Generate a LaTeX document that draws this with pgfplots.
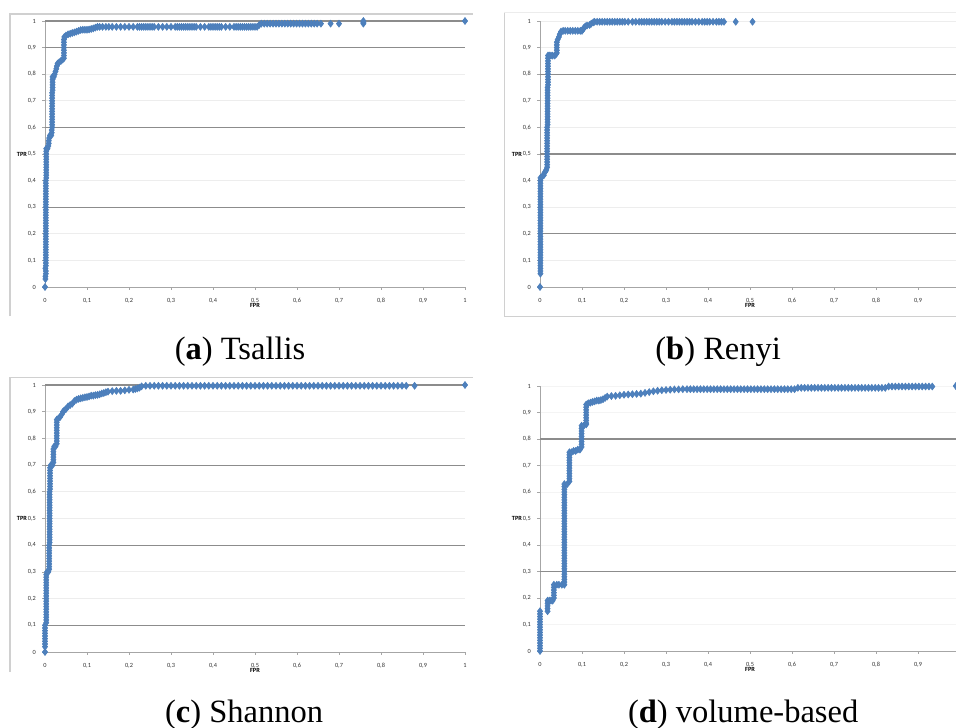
\documentclass[border=0pt]{standalone}
\usepackage{fontspec}
\setmainfont{Carlito}
\newfontfamily\capfont{Liberation Serif}
\usepackage{pgfplots}
\pgfplotsset{compat=1.18}

\definecolor{xlblue}{HTML}{4F81BD}
\definecolor{xledge}{HTML}{4A7EBB}
\definecolor{gridd}{HTML}{8C8C8C}
\definecolor{gridl}{HTML}{EDEDED}
\definecolor{axgray}{HTML}{A6A6A6}
\definecolor{frame}{HTML}{D0D0D0}

\pgfplotsset{
  roc/.style={
    scale only axis, width=8.4cm, height=5.32cm,
    xmin=0, xmax=1, ymin=0, ymax=1,
    axis lines*=left,
    axis line style={axgray, line width=0.5pt},
    xtick={0,0.1,0.2,0.3,0.4,0.5,0.6,0.7,0.8,0.9,1},
    ytick={0,0.1,0.2,0.3,0.4,0.5,0.6,0.7,0.8,0.9,1},
    tick align=outside, major tick length=0.06cm,
    tick style={axgray, line width=0.4pt},
    ymajorgrids, major grid style={gridl, line width=0.5pt},
    extra y tick style={grid=major, major grid style={gridd, line width=0.6pt}},
    extra y tick labels={},
    tick label style={font=\fontsize{3.6}{4}\selectfont, text=black!80},
    xticklabel style={anchor=north, text height=0.9ex, text depth=0.25ex, yshift=0.03cm},
    /pgf/number format/use comma,
    /pgf/number format/fixed,
    /pgf/number format/assume math mode=true,
    xlabel={FPR}, ylabel={TPR},
    label style={font=\fontsize{3.6}{4}\selectfont\bfseries},
    xlabel style={at={(axis description cs:0.5,-0.068)}, anchor=center},
    ylabel style={at={(axis description cs:-0.055,0.5)}, anchor=center, rotate=-90},
    clip=false,
  },
  % right-hand panels run past the page edge, as in the reference
  cut/.style={xtick={0,0.1,0.2,0.3,0.4,0.5,0.6,0.7,0.8,0.9}},
  pts/.style={only marks, mark=diamond*, mark size=2pt, color=xlblue,
    mark options={draw=xledge, fill=xlblue, line width=0.3pt}},
}

\begin{document}
\begin{tikzpicture}
\useasboundingbox (0,0) rectangle (19.12,14.56);

% frames and captions, in pixel units of the reference
\begin{scope}[x=0.02cm, y=-0.02cm, yshift=14.56cm]
  \draw[frame, line width=0.6pt] (10,316) -- (10,14) -- (473,14);
  \draw[frame, line width=0.6pt] (504,12) -- (504,316) -- (956,316);
  \draw[frame!40, line width=0.5pt] (504,12) -- (956,12);
  \draw[frame, line width=0.6pt] (10,672) -- (10,377) -- (473,377);
  \begin{scope}[every node/.style={font=\capfont\fontsize{18.5}{20}\selectfont}]
    \node at (240,352) {(\textbf{a}) Tsallis};
    \node at (718,352) {(\textbf{b}) Renyi};
    \node at (244,715) {(\textbf{c}) Shannon};
    \node at (743,715) {(\textbf{d}) volume-based};
  \end{scope}
\end{scope}

% (a) Tsallis
\begin{axis}[roc, at={(0.90cm,8.82cm)}, anchor=south west,
  extra y ticks={0.3,0.6,0.9,1}]
\addplot[pts] coordinates {
(0,0)
(0.001,0.03)(0.001,0.04)(0.002,0.05)(0.002,0.06)(0.001,0.07)(0.002,0.08)(0.002,0.09)(0.002,0.10)
(0.002,0.11)(0.002,0.12)(0.002,0.13)(0.002,0.14)(0.002,0.15)(0.002,0.16)(0.002,0.17)(0.002,0.18)(0.002,0.19)(0.002,0.20)
(0.002,0.21)(0.002,0.22)(0.002,0.23)(0.002,0.24)(0.002,0.25)(0.002,0.26)(0.002,0.27)(0.002,0.28)(0.002,0.29)(0.002,0.30)
(0.002,0.31)(0.002,0.32)(0.002,0.33)(0.002,0.34)(0.002,0.35)(0.002,0.36)(0.002,0.37)(0.002,0.38)(0.002,0.39)(0.002,0.40)
(0.003,0.41)(0.003,0.42)(0.003,0.43)(0.003,0.44)(0.003,0.45)(0.003,0.46)(0.003,0.47)(0.003,0.48)(0.003,0.49)(0.003,0.50)
(0.003,0.51)(0.003,0.52)(0.006,0.52)(0.008,0.53)(0.009,0.54)(0.009,0.55)(0.010,0.56)(0.012,0.57)(0.015,0.57)
(0.016,0.58)(0.016,0.59)(0.017,0.60)(0.017,0.61)(0.017,0.62)(0.017,0.63)(0.017,0.64)(0.017,0.65)(0.017,0.66)(0.017,0.67)
(0.017,0.68)(0.017,0.69)(0.017,0.70)(0.017,0.71)(0.017,0.72)(0.017,0.73)(0.018,0.74)(0.018,0.75)(0.018,0.76)(0.018,0.77)
(0.018,0.78)(0.018,0.79)
(0.021,0.79)(0.023,0.80)(0.025,0.81)(0.027,0.82)(0.028,0.83)(0.030,0.84)(0.034,0.845)(0.038,0.85)(0.042,0.855)
(0.045,0.86)(0.045,0.87)(0.045,0.88)(0.045,0.89)(0.045,0.90)(0.045,0.91)(0.045,0.92)(0.045,0.93)(0.046,0.94)
(0.050,0.945)(0.055,0.95)(0.060,0.952)(0.065,0.955)(0.070,0.957)(0.075,0.96)(0.080,0.963)(0.085,0.966)(0.090,0.967)
(0.095,0.967)(0.100,0.967)(0.105,0.968)(0.110,0.97)(0.115,0.972)(0.120,0.975)
(0.125,0.978)(0.130,0.978)(0.137,0.978)(0.145,0.978)(0.152,0.978)(0.160,0.978)(0.170,0.978)(0.180,0.978)(0.190,0.978)
(0.200,0.978)(0.210,0.978)(0.220,0.978)(0.225,0.978)(0.230,0.978)(0.235,0.978)(0.240,0.978)(0.245,0.978)(0.250,0.978)
(0.255,0.978)(0.260,0.978)(0.270,0.978)(0.280,0.978)(0.290,0.978)(0.300,0.978)(0.310,0.978)(0.315,0.978)(0.320,0.978)
(0.325,0.978)(0.330,0.978)(0.335,0.978)(0.340,0.978)(0.345,0.978)(0.350,0.978)(0.355,0.978)(0.360,0.978)(0.370,0.978)
(0.380,0.978)(0.390,0.978)(0.395,0.978)(0.400,0.978)(0.405,0.978)(0.410,0.978)(0.415,0.978)(0.420,0.978)(0.430,0.978)
(0.440,0.978)(0.450,0.978)(0.455,0.978)(0.460,0.978)(0.465,0.978)(0.470,0.978)(0.475,0.978)(0.480,0.978)(0.485,0.978)
(0.490,0.978)(0.495,0.978)(0.500,0.978)(0.505,0.978)
(0.510,0.985)(0.515,0.99)(0.522,0.99)(0.529,0.99)(0.536,0.99)(0.543,0.99)(0.550,0.99)(0.557,0.99)(0.564,0.99)
(0.571,0.99)(0.578,0.99)(0.585,0.99)(0.592,0.99)(0.599,0.99)(0.606,0.99)(0.613,0.99)(0.620,0.99)(0.627,0.99)
(0.634,0.99)(0.641,0.99)(0.648,0.99)(0.657,0.99)
(0.680,0.99)(0.700,0.99)(0.758,0.99)(0.758,0.995)(0.758,1)(1,1)
};
\end{axis}

% (b) Renyi
\begin{axis}[roc, cut, at={(10.80cm,8.82cm)}, anchor=south west,
  extra y ticks={0.2,0.5,0.8}]
\addplot[pts] coordinates {
(0,0)
(0.001,0.05)(0.001,0.06)(0.001,0.07)(0.001,0.08)(0.001,0.09)(0.001,0.10)(0.001,0.11)(0.001,0.12)(0.001,0.13)(0.001,0.14)
(0.001,0.15)(0.001,0.16)(0.001,0.17)(0.001,0.18)(0.001,0.19)(0.001,0.20)(0.001,0.21)(0.001,0.22)(0.001,0.23)(0.001,0.24)
(0.001,0.25)(0.001,0.26)(0.001,0.27)(0.001,0.28)(0.001,0.29)(0.001,0.30)(0.001,0.31)(0.001,0.32)(0.001,0.33)(0.001,0.34)
(0.001,0.35)(0.001,0.36)(0.001,0.37)(0.001,0.38)(0.001,0.39)(0.001,0.40)(0.001,0.41)
(0.005,0.415)(0.009,0.42)(0.011,0.43)(0.013,0.435)(0.015,0.44)
(0.017,0.45)(0.017,0.46)(0.017,0.47)(0.017,0.48)(0.017,0.49)(0.017,0.50)(0.017,0.51)(0.017,0.52)(0.017,0.53)(0.017,0.54)
(0.017,0.55)(0.017,0.56)(0.017,0.57)(0.017,0.58)(0.017,0.59)(0.017,0.60)(0.018,0.61)(0.018,0.62)(0.018,0.63)(0.018,0.64)
(0.018,0.65)(0.018,0.66)(0.018,0.67)(0.018,0.68)(0.018,0.69)(0.018,0.70)(0.018,0.71)(0.018,0.72)(0.018,0.73)(0.018,0.74)
(0.018,0.75)(0.019,0.76)(0.019,0.77)(0.019,0.78)(0.019,0.79)(0.019,0.80)(0.019,0.81)(0.019,0.82)(0.019,0.83)(0.019,0.84)
(0.019,0.85)(0.019,0.86)(0.019,0.87)
(0.022,0.87)(0.026,0.87)(0.030,0.87)(0.035,0.87)(0.038,0.875)(0.040,0.88)(0.040,0.89)(0.040,0.90)(0.040,0.91)(0.040,0.92)
(0.042,0.93)(0.045,0.94)(0.047,0.95)(0.050,0.96)
(0.055,0.963)(0.060,0.963)(0.066,0.963)(0.072,0.963)(0.078,0.963)(0.084,0.963)(0.090,0.963)(0.096,0.963)(0.100,0.963)
(0.103,0.97)(0.105,0.975)(0.108,0.98)(0.112,0.983)(0.118,0.985)(0.122,0.99)(0.127,0.995)
(0.130,0.997)(0.136,0.997)(0.142,0.997)(0.148,0.997)(0.154,0.997)(0.160,0.997)(0.166,0.997)(0.172,0.997)(0.178,0.997)
(0.184,0.997)(0.190,0.997)(0.196,0.997)(0.202,0.997)(0.210,0.997)(0.220,0.997)(0.228,0.997)(0.236,0.997)(0.242,0.997)
(0.248,0.997)(0.254,0.997)(0.260,0.997)(0.266,0.997)(0.272,0.997)(0.278,0.997)(0.284,0.997)(0.290,0.997)(0.298,0.997)
(0.306,0.997)(0.314,0.997)(0.320,0.997)(0.326,0.997)(0.332,0.997)(0.338,0.997)(0.344,0.997)(0.350,0.997)(0.356,0.997)
(0.362,0.997)(0.370,0.997)(0.378,0.997)(0.386,0.997)(0.392,0.997)(0.398,0.997)(0.404,0.997)(0.412,0.997)(0.420,0.997)
(0.426,0.997)(0.432,0.997)(0.438,0.997)
(0.466,0.997)(0.506,0.997)
};
\end{axis}

% (c) Shannon
\begin{axis}[roc, at={(0.90cm,1.52cm)}, anchor=south west, height=5.34cm,
  extra y ticks={0.1,0.4,0.7,1}]
\addplot[pts] coordinates {
(0,0)
(0,0.02)(0,0.03)(0,0.04)(0,0.05)(0,0.06)(0,0.07)(0,0.08)(0,0.09)(0,0.10)
(0.003,0.11)(0.003,0.12)(0.003,0.13)(0.003,0.14)(0.003,0.15)(0.003,0.16)(0.003,0.17)(0.003,0.18)(0.003,0.19)(0.003,0.20)
(0.003,0.21)(0.003,0.22)(0.003,0.23)(0.003,0.24)(0.003,0.25)(0.003,0.26)(0.003,0.27)(0.003,0.28)(0.003,0.29)
(0.005,0.30)(0.008,0.30)
(0.010,0.31)(0.010,0.32)(0.010,0.33)(0.010,0.34)(0.010,0.35)(0.010,0.36)(0.010,0.37)(0.010,0.38)(0.010,0.39)(0.010,0.40)
(0.011,0.41)(0.011,0.42)(0.011,0.43)(0.011,0.44)(0.011,0.45)(0.011,0.46)(0.011,0.47)(0.011,0.48)(0.011,0.49)(0.011,0.50)
(0.011,0.51)(0.011,0.52)(0.011,0.53)(0.011,0.54)(0.011,0.55)(0.011,0.56)(0.011,0.57)(0.011,0.58)(0.011,0.59)(0.011,0.60)
(0.012,0.61)(0.012,0.62)(0.012,0.63)(0.012,0.64)(0.012,0.65)(0.012,0.66)(0.012,0.67)(0.012,0.68)(0.012,0.69)
(0.014,0.70)(0.018,0.70)
(0.020,0.71)(0.020,0.72)(0.020,0.73)(0.020,0.74)(0.020,0.75)(0.020,0.76)(0.022,0.77)(0.025,0.77)
(0.028,0.78)(0.028,0.79)(0.028,0.80)(0.028,0.81)(0.028,0.82)(0.028,0.83)(0.028,0.84)(0.028,0.85)(0.028,0.86)(0.028,0.87)
(0.032,0.875)(0.036,0.88)(0.040,0.89)(0.043,0.90)(0.046,0.905)(0.050,0.91)(0.055,0.92)(0.060,0.925)(0.065,0.93)
(0.070,0.94)(0.075,0.945)(0.080,0.948)(0.085,0.95)(0.090,0.952)(0.095,0.954)(0.100,0.955)(0.105,0.957)(0.110,0.96)
(0.115,0.96)(0.120,0.962)(0.125,0.963)(0.130,0.965)(0.135,0.968)(0.140,0.97)(0.145,0.973)(0.150,0.975)(0.160,0.977)
(0.170,0.978)(0.180,0.978)(0.190,0.98)(0.200,0.982)(0.210,0.983)(0.215,0.985)(0.220,0.987)(0.225,0.99)(0.230,0.995)
(0.24,0.997)(0.25,0.997)(0.26,0.997)(0.27,0.997)(0.28,0.997)(0.29,0.997)(0.30,0.997)(0.31,0.997)(0.32,0.997)(0.33,0.997)
(0.34,0.997)(0.35,0.997)(0.36,0.997)(0.37,0.997)(0.38,0.997)(0.39,0.997)(0.40,0.997)(0.41,0.997)(0.42,0.997)(0.43,0.997)
(0.44,0.997)(0.45,0.997)(0.46,0.997)(0.47,0.997)(0.48,0.997)(0.49,0.997)(0.50,0.997)(0.51,0.997)(0.52,0.997)(0.53,0.997)
(0.54,0.997)(0.55,0.997)(0.56,0.997)(0.57,0.997)(0.58,0.997)(0.59,0.997)(0.60,0.997)(0.61,0.997)(0.62,0.997)(0.63,0.997)
(0.64,0.997)(0.65,0.997)(0.66,0.997)(0.67,0.997)(0.68,0.997)(0.69,0.997)(0.70,0.997)(0.71,0.997)(0.72,0.997)(0.73,0.997)
(0.74,0.997)(0.75,0.997)(0.76,0.997)(0.77,0.997)(0.78,0.997)(0.79,0.997)(0.80,0.997)(0.81,0.997)(0.82,0.997)(0.83,0.997)
(0.84,0.997)(0.85,0.997)(0.86,0.997)
(0.88,0.997)(1,1)
};
\end{axis}

% (d) volume-based
\begin{axis}[roc, cut, at={(10.80cm,1.54cm)}, anchor=south west, height=5.30cm,
  extra y ticks={0.3,0.8}, major grid style={gridl!60, line width=0.5pt}]
\addplot[pts] coordinates {
(0,0)(0,0.01)(0,0.02)(0,0.03)(0,0.04)(0,0.05)(0,0.06)(0,0.07)(0,0.08)(0,0.09)(0,0.10)
(0,0.11)(0,0.12)(0,0.13)(0,0.14)(0,0.15)
(0.018,0.15)(0.018,0.16)(0.018,0.17)(0.018,0.18)(0.018,0.19)(0.022,0.19)(0.026,0.19)(0.030,0.19)
(0.033,0.20)(0.033,0.21)(0.033,0.22)(0.033,0.23)(0.033,0.24)(0.033,0.25)(0.040,0.25)(0.045,0.25)(0.052,0.25)
(0.058,0.25)(0.058,0.26)(0.058,0.27)(0.058,0.28)(0.058,0.29)(0.058,0.30)(0.058,0.31)(0.058,0.32)(0.058,0.33)(0.058,0.34)
(0.058,0.35)(0.058,0.36)(0.058,0.37)(0.058,0.38)(0.058,0.39)(0.058,0.40)(0.058,0.41)(0.058,0.42)(0.058,0.43)(0.058,0.44)
(0.058,0.45)(0.058,0.46)(0.058,0.47)(0.058,0.48)(0.058,0.49)(0.058,0.50)(0.058,0.51)(0.058,0.52)(0.058,0.53)(0.058,0.54)
(0.058,0.55)(0.058,0.56)(0.058,0.57)(0.058,0.58)(0.058,0.59)(0.058,0.60)(0.058,0.61)(0.058,0.62)(0.058,0.63)
(0.065,0.63)(0.070,0.64)(0.070,0.65)(0.070,0.66)(0.070,0.67)(0.070,0.68)(0.070,0.69)(0.070,0.70)(0.070,0.71)(0.070,0.72)
(0.070,0.73)(0.070,0.74)(0.070,0.75)
(0.075,0.75)(0.080,0.755)(0.085,0.755)(0.090,0.76)(0.095,0.76)
(0.099,0.77)(0.099,0.78)(0.099,0.79)(0.099,0.80)(0.099,0.81)(0.099,0.82)(0.099,0.83)(0.099,0.84)(0.099,0.85)
(0.104,0.85)(0.110,0.855)(0.110,0.86)(0.110,0.87)(0.110,0.88)(0.110,0.89)(0.110,0.90)(0.110,0.91)(0.110,0.92)(0.110,0.93)
(0.115,0.935)(0.120,0.937)(0.125,0.94)(0.130,0.942)(0.135,0.945)(0.140,0.945)(0.145,0.947)(0.150,0.95)(0.155,0.955)
(0.160,0.96)(0.170,0.962)(0.180,0.963)(0.190,0.965)(0.200,0.967)(0.210,0.968)(0.220,0.969)(0.230,0.97)(0.240,0.971)
(0.250,0.974)(0.260,0.977)(0.270,0.98)(0.280,0.982)(0.290,0.984)(0.300,0.985)(0.310,0.986)(0.320,0.987)(0.330,0.987)
(0.340,0.988)(0.350,0.988)
(0.358,0.988)(0.366,0.988)(0.374,0.988)(0.382,0.988)(0.390,0.988)(0.398,0.988)(0.406,0.988)(0.414,0.988)(0.422,0.988)
(0.430,0.988)(0.438,0.988)(0.446,0.988)(0.454,0.988)(0.462,0.988)(0.470,0.988)(0.478,0.988)(0.486,0.988)(0.494,0.988)
(0.502,0.988)(0.510,0.988)(0.518,0.988)(0.526,0.988)(0.534,0.988)(0.542,0.988)(0.550,0.988)(0.558,0.988)(0.566,0.988)
(0.574,0.988)(0.582,0.988)(0.590,0.988)(0.598,0.988)(0.606,0.988)
(0.614,0.993)(0.622,0.993)(0.630,0.993)(0.638,0.993)(0.646,0.993)(0.654,0.993)(0.662,0.993)(0.670,0.993)(0.678,0.993)
(0.686,0.993)(0.694,0.993)(0.702,0.993)(0.710,0.993)(0.718,0.993)(0.726,0.993)(0.734,0.993)(0.742,0.993)(0.750,0.993)
(0.758,0.993)(0.766,0.993)(0.774,0.993)(0.782,0.993)(0.790,0.993)(0.798,0.993)(0.806,0.993)(0.814,0.993)(0.822,0.993)
(0.830,0.998)(0.838,0.998)(0.846,0.998)(0.854,0.998)(0.862,0.998)(0.870,0.998)(0.878,0.998)(0.886,0.998)(0.894,0.998)
(0.902,0.998)(0.910,0.998)(0.918,0.998)(0.926,0.998)(0.934,0.998)
(0.990,1)
};
\end{axis}
\end{tikzpicture}
\end{document}
